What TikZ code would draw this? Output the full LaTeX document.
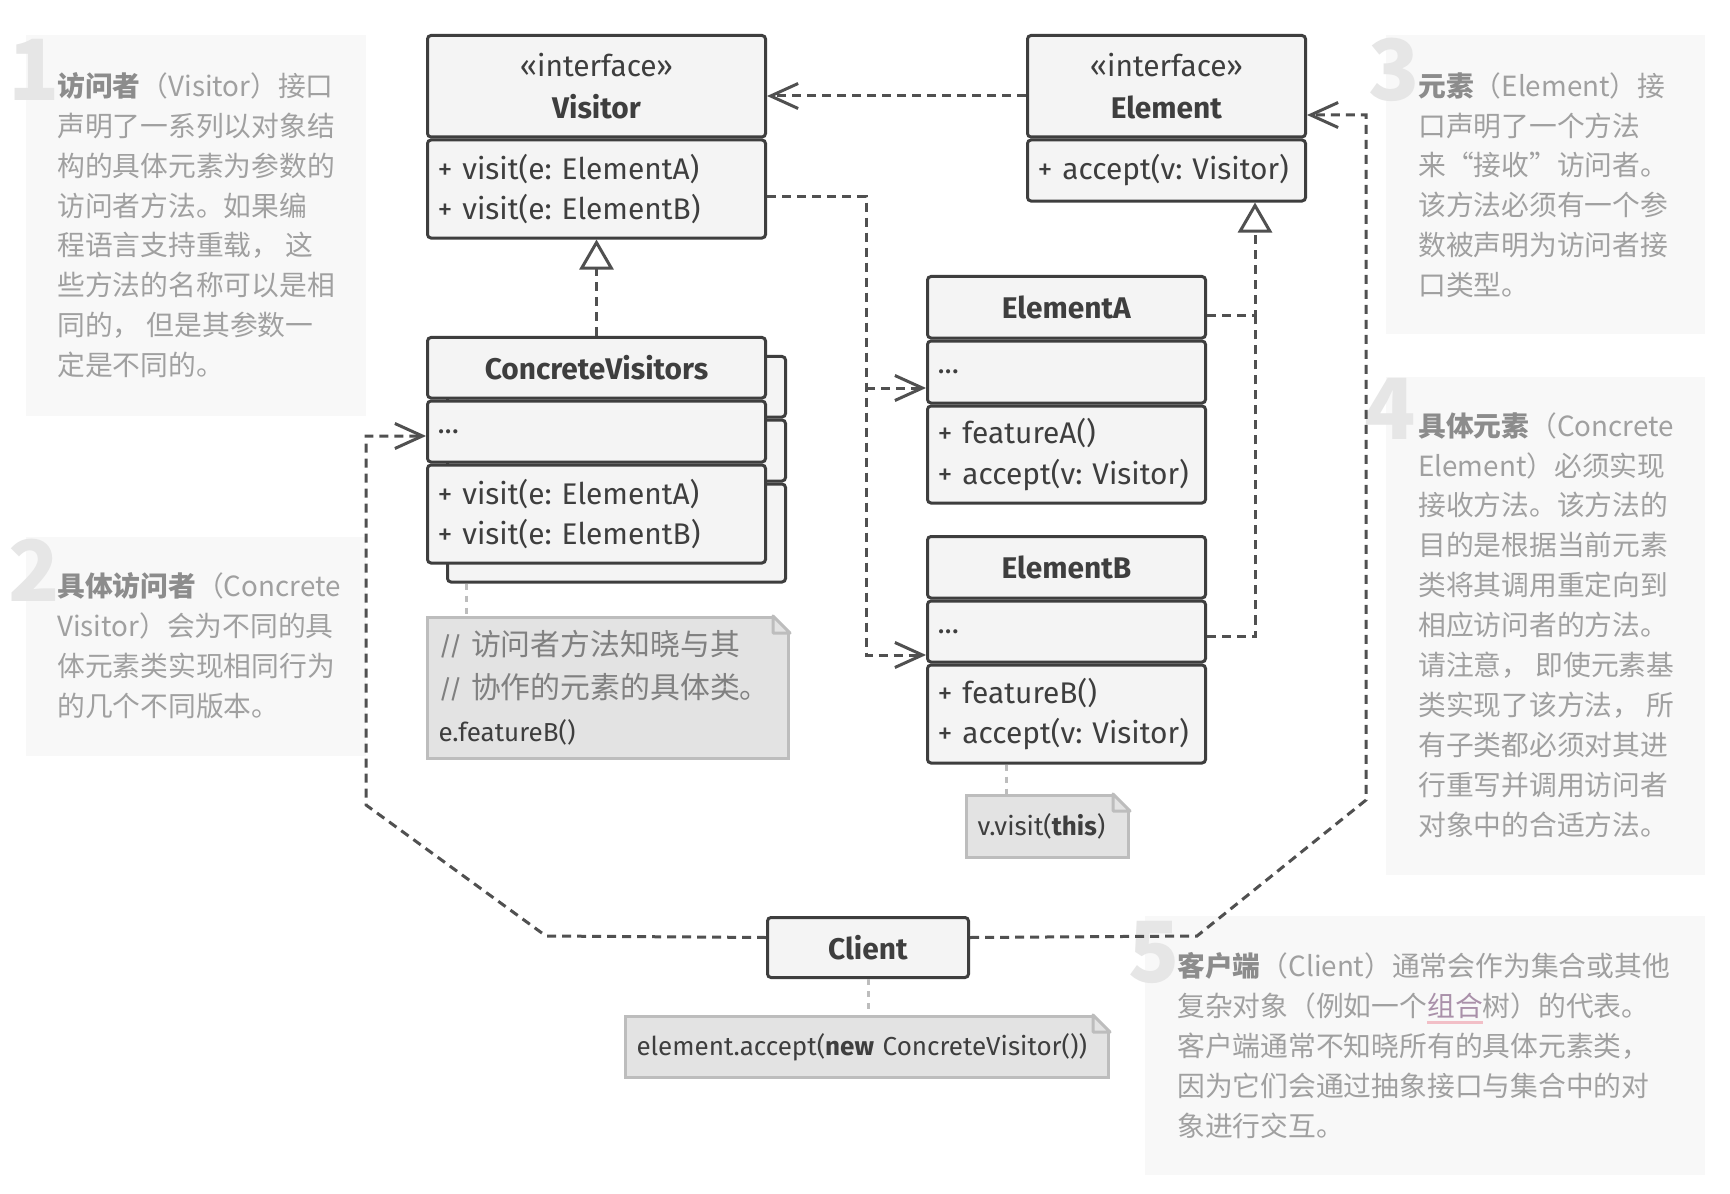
\documentclass[tikz,border=0pt]{standalone}
\usepackage{fontspec}
\setmainfont{Fira Sans}
\newfontfamily\cjk{Noto Sans CJK SC}
\usetikzlibrary{positioning,arrows.meta}
\frenchspacing

\definecolor{ink}{HTML}{3E3E3E}
\definecolor{boxbg}{HTML}{F4F4F4}
\definecolor{wire}{HTML}{505050}
\definecolor{notebg}{HTML}{E3E3E3}
\definecolor{noteline}{HTML}{BDBDBD}
\definecolor{panelbg}{HTML}{F8F8F8}
\definecolor{anntext}{HTML}{A0A0A0}
\definecolor{annhead}{HTML}{8C8C8C}
\definecolor{numgray}{HTML}{E6E6E6}
\definecolor{linkc}{HTML}{A990A9}
\definecolor{linkul}{HTML}{F2BFC7}
\definecolor{comment}{HTML}{808080}

\begin{document}
\begin{tikzpicture}[x=0.2mm, y=-0.2mm,
  cls/.style={draw=ink, fill=boxbg, line width=0.6mm, rounded corners=0.7mm, inner xsep=2mm, inner ysep=0pt, text=ink},
  head/.style={cls, align=center, font=\fontsize{17}{23.5}\selectfont},
  body/.style={cls, align=left, font=\fontsize{17}{23}\selectfont},
  note/.style={draw=noteline, fill=notebg, line width=0.6mm, inner xsep=2.2mm, inner ysep=0pt, align=left, anchor=north west, text=ink, font=\fontsize{14.8}{22.5}\selectfont},
  dep/.style={draw=wire, line width=0.6mm, dash pattern=on 1.8mm off 1.2mm, -{Straight Barb[length=5.5mm, width=5mm]}},
  real/.style={draw=wire, line width=0.6mm, dash pattern=on 1.8mm off 1.2mm, -{Triangle[length=6mm, width=6.8mm, fill=white]}},
  link/.style={draw=noteline, line width=0.6mm, dash pattern=on 1.2mm off 1.2mm},
  panel/.style={fill=panelbg},
  num/.style={anchor=base west, inner sep=0pt, text=numgray, font=\cjk\bfseries\fontsize{48}{48}\selectfont},
  ann/.style={anchor=north west, inner sep=0pt, align=left, text=anntext, font=\cjk\fontsize{15.8}{22.7}\selectfont}]

\useasboundingbox (0,0) rectangle (1730,1194);
\fill[white] (0,0) rectangle (1730,1194);

% side notes
\fill[panel] (26,35) rectangle (366,416);
\fill[panel] (26,537) rectangle (366,756);
\fill[panel] (1386,35) rectangle (1705,334);
\fill[panel] (1386,377) rectangle (1705,875);
\fill[panel] (1145,916) rectangle (1705,1175);

\node[num] (num1) at (8,101) {1};
\node[num] (num2) at (8,601) {2};
\node[num] (num3) at (1368,101) {3};
\node[num] (num4) at (1364,439) {4};
\node[num] (num5) at (1128,982) {5};

\node[ann] (ann1) at (57,72) {\textcolor{annhead}{\bfseries 访问者}（Visitor）接口\\声明了一系列以对象结\\构的具体元素为参数的\\访问者方法。如果编\\程语言支持重载， 这\\些方法的名称可以是相\\同的， 但是其参数一\\定是不同的。};
\node[ann] (ann2) at (57,572) {\textcolor{annhead}{\bfseries 具体访问者}（Concrete\\Visitor）会为不同的具\\体元素类实现相同行为\\的几个不同版本。};
\node[ann] (ann3) at (1418,72) {\textcolor{annhead}{\bfseries 元素}（Element）接\\口声明了一个方法\\来“接收”访问者。\\该方法必须有一个参\\数被声明为访问者接\\口类型。};
\node[ann] (ann4) at (1418,412) {\textcolor{annhead}{\bfseries 具体元素}（Concrete\\Element）必须实现\\接收方法。该方法的\\目的是根据当前元素\\类将其调用重定向到\\相应访问者的方法。\\请注意， 即使元素基\\类实现了该方法， 所\\有子类都必须对其进\\行重写并调用访问者\\对象中的合适方法。};
\node[ann] (ann5) at (1177,952) {\textcolor{annhead}{\bfseries 客户端}（Client）通常会作为集合或其他\\复杂对象（例如一个\textcolor{linkc}{组合}\llap{\textcolor{linkul}{\rule[-4.5pt]{2em}{1.6pt}}}树）的代表。\\客户端通常不知晓所有的具体元素类，\\因为它们会通过抽象接口与集合中的对\\象进行交互。};

% classes
\node[head, text width=63.6mm, minimum height=20.3mm, anchor=north west] (vis-h) at (426,34) {«interface»\\\textbf{Visitor}};
\node[body, text width=63.6mm, minimum height=19.6mm, below=0pt of vis-h] (vis-m) {+ visit(e: ElementA)\\+ visit(e: ElementB)};

\node[head, text width=51.6mm, minimum height=20.3mm, anchor=north west] (el-h) at (1026,34) {«interface»\\\textbf{Element}};
\node[body, text width=51.6mm, minimum height=12.2mm, below=0pt of el-h] (el-m) {+ accept(v: Visitor)};

\node[head, text width=63.6mm, minimum height=12.1mm, anchor=north west] (cvs-h) at (446,355) {};
\node[body, text width=63.6mm, minimum height=12.2mm, below=0pt of cvs-h] (cvs-a) {};
\node[body, text width=63.6mm, minimum height=19.6mm, below=0pt of cvs-a] (cvs-m) {};
\node[head, text width=63.6mm, minimum height=12.1mm, anchor=north west] (cv-h) at (426,336) {\textbf{ConcreteVisitors}};
\node[body, text width=63.6mm, minimum height=12.2mm, below=0pt of cv-h] (cv-a) {...};
\node[body, text width=63.6mm, minimum height=19.6mm, below=0pt of cv-a] (cv-m) {+ visit(e: ElementA)\\+ visit(e: ElementB)};

\node[head, text width=51.6mm, minimum height=12.3mm, anchor=north west] (ea-h) at (926,275) {\textbf{ElementA}};
\node[body, text width=51.6mm, minimum height=12.4mm, below=0pt of ea-h] (ea-a) {...};
\node[body, text width=51.6mm, minimum height=19.4mm, below=0pt of ea-a] (ea-m) {+ featureA()\\+ accept(v: Visitor)};

\node[head, text width=51.6mm, minimum height=12.3mm, anchor=north west] (eb-h) at (926,535) {\textbf{ElementB}};
\node[body, text width=51.6mm, minimum height=12.2mm, below=0pt of eb-h] (eb-a) {...};
\node[body, text width=51.6mm, minimum height=19.6mm, below=0pt of eb-a] (eb-m) {+ featureB()\\+ accept(v: Visitor)};

\node[head, text width=36.2mm, minimum height=12mm, anchor=north west] (client) at (766,916) {\textbf{Client}};

% code notes
\node[note, text width=67.8mm, minimum height=28.2mm, font=\fontsize{14.8}{24.5}\selectfont] (nt-cv) at (426,616) {\textcolor{comment}{// {\cjk\fontsize{17}{24.5}\selectfont 访问者方法知晓与其}}\\\textcolor{comment}{// {\cjk\fontsize{17}{24.5}\selectfont 协作的元素的具体类。}}\\e.featureB()};
\node[note, text width=28mm, minimum height=12.4mm] (nt-eb) at (965,794) {v.visit(\textbf{this})};
\node[note, text width=92.2mm, minimum height=12.2mm] (nt-cl) at (624,1015) {element.accept(\textbf{new} ConcreteVisitor())};
\foreach \n in {nt-cv,nt-eb,nt-cl} {
  \fill[white] ([xshift=-3.8mm,yshift=0.4mm]\n.north east) -- ([xshift=0.4mm,yshift=0.4mm]\n.north east) -- ([xshift=0.4mm,yshift=-3.8mm]\n.north east) -- cycle;
  \filldraw[fill=notebg, draw=noteline, line width=0.6mm, line join=round] ([xshift=-3.4mm]\n.north east) |- ([yshift=-3.4mm]\n.north east) -- cycle;
}

\draw[link] (cvs-m.south -| 466,0) -- (nt-cv.north -| 466,0);
\draw[link] (eb-m.south -| 1006,0) -- (nt-eb.north -| 1006,0);
\draw[link] (client.south) -- (nt-cl.north -| client.south);

% relations
\draw[dep] (el-h.west |- 0,96) -- (vis-h.east |- 0,96);
\draw[dep] ([yshift=-1.5mm]vis-m.east) -| (866,655) -- (eb-a.west |- 0,655);
\draw[dep] (866,388) -- (ea-a.west |- 0,388);
\draw[real] (cv-h.north) -- (vis-m.south);
\draw[real] ([yshift=-1.7mm]ea-h.east) -| (el-m.south -| 1255,0);
\draw[draw=wire, line width=0.6mm, dash pattern=on 1.8mm off 1.2mm] ([yshift=-1mm]eb-a.east) -| (1255,316);
\draw[dep] ([yshift=2mm]client.west) -- (546,936) -- (366,805) -- (366,436) -- (cv-a.west |- 0,436);
\draw[dep] ([yshift=2mm]client.east) -- (1197,936) -- (1366,800) -- (1366,115) -- (el-h.east |- 0,115);
\end{tikzpicture}
\end{document}
